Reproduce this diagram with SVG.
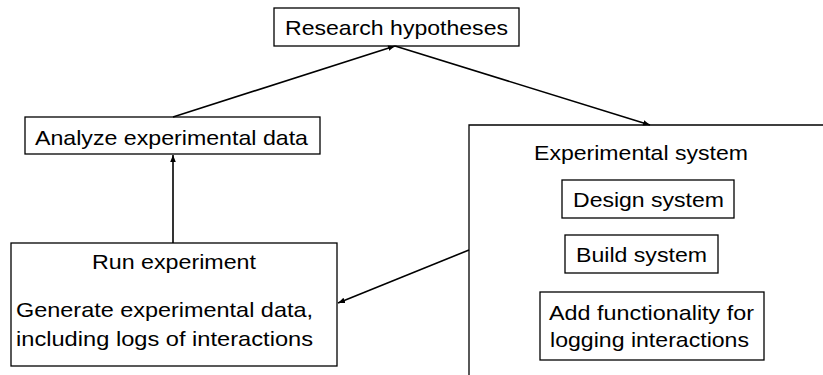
<svg xmlns="http://www.w3.org/2000/svg" width="823" height="375" viewBox="0 0 823 375">
<defs>
<style>
.box{fill:#fff;stroke:#000;stroke-width:1.3}
.t{font-family:"Liberation Sans",Arial,sans-serif;font-size:21px;fill:#000}
.c{stroke:#000;stroke-width:1.6;fill:none;marker-end:url(#ah)}
</style>
<marker id="ah" viewBox="0 0 10 10" refX="10" refY="5" markerWidth="7" markerHeight="7" markerUnits="userSpaceOnUse" orient="auto">
<path d="M0,1 L10,5 L0,9 Z" fill="#000"/>
</marker>
</defs>
<rect width="823" height="375" fill="#fff"/>
<g id="research">
<rect class="box" x="274" y="8" width="245" height="38"/>
<text class="t" x="285" y="35" textLength="223" lengthAdjust="spacingAndGlyphs">Research hypotheses</text>
</g>
<g id="analyze">
<rect class="box" x="25" y="117" width="295" height="37"/>
<text class="t" x="35" y="145" textLength="273" lengthAdjust="spacingAndGlyphs">Analyze experimental data</text>
</g>
<g id="experimental-system">
<path class="box" d="M823,125 H469 V375" fill="none"/>
<text class="t" x="534" y="160" textLength="214" lengthAdjust="spacingAndGlyphs">Experimental system</text>
</g>
<g id="design">
<rect class="box" x="562" y="180" width="172" height="38"/>
<text class="t" x="573" y="207" textLength="151" lengthAdjust="spacingAndGlyphs">Design system</text>
</g>
<g id="build">
<rect class="box" x="565" y="235" width="153" height="38"/>
<text class="t" x="576" y="262" textLength="131" lengthAdjust="spacingAndGlyphs">Build system</text>
</g>
<g id="logging">
<rect class="box" x="540" y="292" width="224" height="68"/>
<text class="t" x="549" y="320" textLength="205" lengthAdjust="spacingAndGlyphs">Add functionality for</text>
<text class="t" x="550" y="347" textLength="199" lengthAdjust="spacingAndGlyphs">logging interactions</text>
</g>
<g id="run">
<rect class="box" x="11" y="243" width="326" height="123"/>
<text class="t" x="92" y="269" textLength="164" lengthAdjust="spacingAndGlyphs">Run experiment</text>
<text class="t" x="16" y="317" textLength="297" lengthAdjust="spacingAndGlyphs">Generate experimental data,</text>
<text class="t" x="16" y="346" textLength="297" lengthAdjust="spacingAndGlyphs">including logs of interactions</text>
</g>
<g id="connectors">
<line class="c" x1="173" y1="243" x2="173" y2="155"/>
<line class="c" x1="173" y1="117" x2="395" y2="46"/>
<line class="c" x1="395" y1="46" x2="650" y2="125"/>
<line class="c" x1="469" y1="250" x2="338" y2="303"/>
</g>
</svg>
